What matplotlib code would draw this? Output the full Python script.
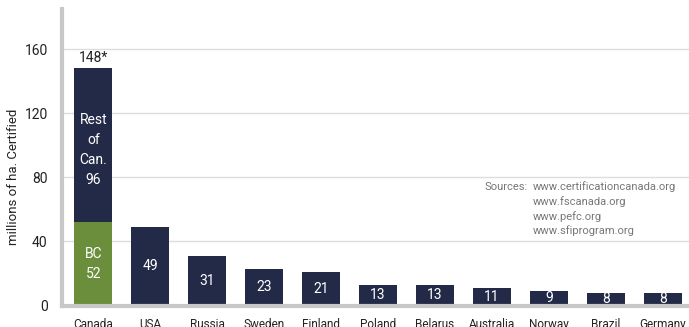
import matplotlib
matplotlib.use("Agg")
import matplotlib.pyplot as plt

countries = ["Canada", "USA", "Russia", "Sweden", "Finland", "Poland",
             "Belarus", "Australia", "Norway", "Brazil", "Germany"]
certified = [148, 49, 31, 23, 21, 13, 13, 11, 9, 8, 8]
bc_area = 52
rest_of_canada = 96
yticks = [0, 40, 80, 120, 160]
sources = ["www.certificationcanada.org", "www.fscanada.org",
           "www.pefc.org", "www.sfiprogram.org"]

navy = "#232a47"
green = "#6a8e3b"
plt.rcParams["font.family"] = ["Roboto", "DejaVu Sans"]

fig = plt.figure(figsize=(6.89, 3.27), dpi=100)
ax = fig.add_axes([0.0893, 0.0657, 0.9107, 0.907])

x = list(range(len(countries)))
w = 0.67
# Other countries as plain bars
ax.bar(x[1:], certified[1:], width=w, color=navy, zorder=1)
# Canada split into BC and the rest
ax.bar(0, bc_area, width=w, color=green, zorder=1)
ax.bar(0, rest_of_canada, bottom=bc_area, width=w, color=navy, zorder=1)

lbl = dict(color="white", ha="center", va="center", fontsize=10,
           zorder=2, linespacing=1.55)
for xi, v in zip(x[1:], certified[1:]):
    ax.text(xi, v / 2, str(v), **lbl)
ax.text(0, bc_area / 2, f"BC\n{bc_area}", **lbl)
ax.text(0, bc_area + rest_of_canada / 2 - 3, f"Rest\nof\nCan.\n{rest_of_canada}", **lbl)
ax.text(0, certified[0] + 2, f"{certified[0]}*", ha="center", va="bottom",
        fontsize=10, color="#222222")

ax.set_xlim(-0.56, 10.46)
ax.set_ylim(0, 185)
ax.set_yticks(yticks)
ax.set_xticks(x)
ax.set_xticklabels(countries, fontsize=8.5, color="#222222")
ax.tick_params(axis="x", length=0, pad=9)
ax.tick_params(axis="y", length=0, pad=10, labelsize=10, labelcolor="#222222")
ax.grid(axis="y", color="#dddddd", linewidth=1, zorder=0)
ax.set_axisbelow(True)
for s in ["top", "right"]:
    ax.spines[s].set_visible(False)
for s in ["left", "bottom"]:
    ax.spines[s].set_color("#c8c8c8")
    ax.spines[s].set_linewidth(3)
    ax.spines[s].set_zorder(2.5)

ax.set_ylabel("millions of ha. Certified", fontsize=9.5, color="#222222", va="center")
ax.yaxis.set_label_coords(-0.077, 0.433)

ax.text(0.766, 0.428, "Sources:", transform=fig.transFigure, ha="right",
        va="center", fontsize=8, color="#777777")
for i, s in enumerate(sources):
    ax.text(0.7735, 0.428 - i * 0.0447, s, transform=fig.transFigure,
            ha="left", va="center", fontsize=8, color="#777777")

fig.savefig("out.png", dpi=100)
